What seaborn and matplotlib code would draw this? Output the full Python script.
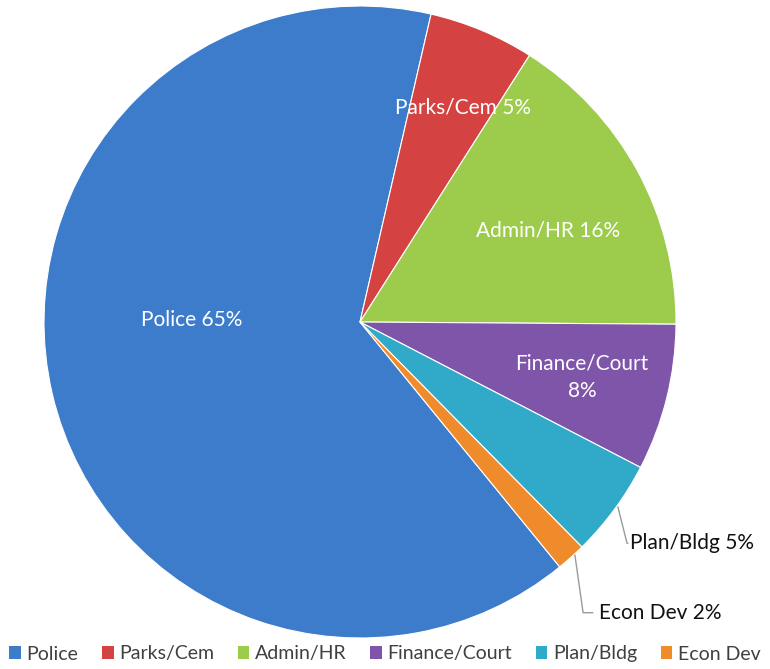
import matplotlib
matplotlib.use("Agg")
import matplotlib.pyplot as plt
import seaborn as sns
from matplotlib.patches import Rectangle

categories = ["Police", "Parks/Cem", "Admin/HR", "Finance/Court", "Plan/Bldg", "Econ Dev"]
shares = [64.5, 5.4, 16.1, 7.5, 5.0, 1.5]
label_texts = ["Police 65%", "Parks/Cem 5%", "Admin/HR 16%", "Finance/Court\n8%", "Plan/Bldg 5%", "Econ Dev 2%"]
colors = ["#3D7CCB", "#D44342", "#9DCC4C", "#7F55A9", "#30AAC8", "#F08B2C"]

sns.set_theme(style="white")
plt.rcParams["font.family"] = ["Lato", "DejaVu Sans"]

fig = plt.figure(figsize=(7.70, 6.69), dpi=100)
cx, cy, r = 360 / 770, (669 - 322) / 669, 316
ax = fig.add_axes([cx - r / 770, cy - r / 669, 2 * r / 770, 2 * r / 669])

wedges, _ = ax.pie(
    shares, colors=sns.color_palette(colors), startangle=-50.8, counterclock=False,
    radius=1.0, wedgeprops=dict(edgecolor="white", linewidth=0.8),
)
ax.set_xlim(-1, 1)
ax.set_ylim(-1, 1)
ax.axis("off")

# inside labels
inside = {0: (-0.532, 0.006), 1: (0.326, 0.680), 2: (0.595, 0.291), 3: (0.703, -0.174)}
for i, (x, y) in inside.items():
    ax.text(x, y, label_texts[i], color="white", fontsize=15, ha="center", va="center",
            linespacing=1.45)

# outside labels with leader lines
ax.plot([0.816, 0.845, 0.848], [-0.585, -0.70, -0.70], color="#9a9a9a", lw=1, clip_on=False)
ax.text(0.854, -0.70, label_texts[4], color="#111111", fontsize=15, ha="left", va="center")
ax.plot([0.680, 0.706, 0.737], [-0.737, -0.92, -0.92], color="#9a9a9a", lw=1, clip_on=False)
ax.text(0.755, -0.92, label_texts[5], color="#111111", fontsize=15, ha="left", va="center")

handles = [Rectangle((0, 0), 1, 1, facecolor=c, edgecolor="none") for c in colors]
fig.legend(handles, categories, loc="center", bbox_to_anchor=(0.5, 1 - 654 / 669), ncol=6,
           frameon=False, fontsize=14, handlelength=0.6, handleheight=0.6, handletextpad=0.3,
           columnspacing=1.2, labelcolor="#404040", borderaxespad=0, borderpad=0)

fig.savefig("out.png", dpi=100, facecolor="white")
